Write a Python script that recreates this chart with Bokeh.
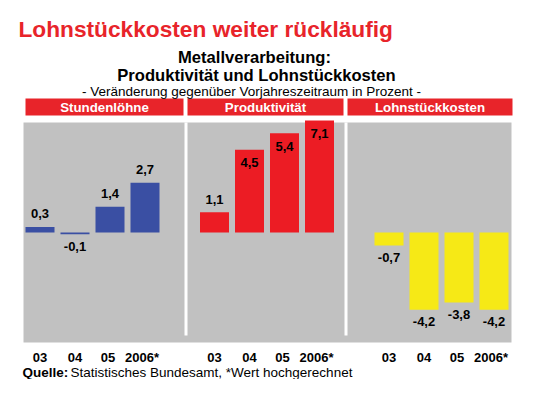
import numpy as np
from bokeh.plotting import figure
from bokeh.models import Range1d
from bokeh.core.properties import value
from bokeh.embed import file_html
from bokeh.resources import INLINE

# ---- data ----
years = ["03", "04", "05", "2006*"]
panels = ["Stundenlöhne", "Produktivität", "Lohnstückkosten"]
stundenloehne = [0.3, -0.1, 1.4, 2.7]
produktivitaet = [1.1, 4.5, 5.4, 7.1]
lohnstueckkosten = [-0.7, -4.2, -3.8, -4.2]
series = [stundenloehne, produktivitaet, lohnstueckkosten]

title = "Lohnstückkosten weiter rückläufig"
sub1 = "Metallverarbeitung:"
sub2 = "Produktivität und Lohnstückkosten"
sub3 = "- Veränderung gegenüber Vorjahreszeitraum in Prozent -"
source_bold = "Quelle:"
source_rest = "Statistisches Bundesamt, *Wert hochgerechnet"

# ---- styles / layout ----
bar_colors = ["#3a4fa3", "#ec1c24", "#f6e916"]
red = "#e8242a"
gray = "#c1c1c1"
FONT = value("Liberation Sans")
W, H = 529, 379
K = 18.4          # pixels per percentage point
BASE = 232        # page-pixel row of the zero line
def Y(px):        # page-pixel row -> value units
    return (BASE - px) / K

p = figure(width=W, height=H, output_backend="svg", toolbar_location=None,
           x_range=Range1d(0, W), y_range=Range1d(Y(H), Y(0)),
           min_border=0, outline_line_color=None)
p.axis.visible = False
p.grid.visible = False
p.background_fill_color = "white"

# panel background
p.quad(left=[23], right=[511], top=[Y(122)], bottom=[Y(342)],
       fill_color=gray, line_color=None)
p.segment(x0=[185.5, 345.5], x1=[185.5, 345.5], y0=[Y(122)] * 2, y1=[Y(335)] * 2,
          line_color="white", line_width=3)

# headers
hl = [25, 187, 347]
hr = [183, 343, 512]
p.quad(left=hl, right=hr, top=[Y(98)] * 3, bottom=[Y(115)] * 3,
       fill_color=red, line_color=None)
p.text(x=[(a + b) / 2 for a, b in zip(hl, hr)], y=[Y(106.5)] * 3, text=panels,
       text_color="white", text_font=FONT, text_font_style="bold",
       text_font_size="13.3px", text_align="center", text_baseline="middle")

# bars
x0, step, pstep, bw = 39.5, 35, 174.5, 29
cap = Y(120)   # bars are cut at the top of the panel area
label_inside = [[False] * 4, [False, True, True, True], [False] * 4]
for k, vals in enumerate(series):
    v = np.array(vals)
    xs = x0 + pstep * k + step * np.arange(len(v))
    top = np.minimum(np.maximum(v, 0), cap)
    bot = np.minimum(v, 0)
    p.vbar(x=xs, width=bw, top=top, bottom=bot,
           fill_color=bar_colors[k], line_color=None)
    ly = []
    for j, val in enumerate(v):
        if val >= 0:
            ly.append(top[j] - 13 / K if label_inside[k][j] else top[j] + 13 / K)
        else:
            ly.append(bot[j] - 12 / K)
    p.text(x=xs, y=ly, text=[f"{a:.1f}".replace(".", ",") for a in v],
           text_color="black", text_font=FONT, text_font_style="bold",
           text_font_size="13px", text_align="center", text_baseline="middle")
    p.text(x=xs - np.array([0, 0, 2, 3]), y=[Y(357)] * len(v), text=years,
           text_color="black", text_font=FONT, text_font_style="bold",
           text_font_size="13px", text_align="center", text_baseline="middle")

# titles
p.text(x=[18], y=[Y(28)], text=[title], text_color=red, text_font=FONT,
       text_font_style="bold", text_font_size="22.7px", text_align="left",
       text_baseline="alphabetic")
p.text(x=[254, 256], y=[Y(57), Y(75)], text=[sub1, sub2], text_color="black",
       text_font=FONT, text_font_style="bold", text_font_size="16.6px",
       text_align="center", text_baseline="alphabetic")
p.text(x=[251], y=[Y(91)], text=[sub3], text_color="black", text_font=FONT,
       text_font_size="13.5px", text_align="center", text_baseline="alphabetic")

# source
p.text(x=[22], y=[Y(372)], text=[source_bold], text_color="black", text_font=FONT,
       text_font_style="bold", text_font_size="13.5px", text_align="left",
       text_baseline="alphabetic")
p.text(x=[70], y=[Y(372)], text=[source_rest], text_color="black", text_font=FONT,
       text_font_size="13.5px", text_align="left", text_baseline="alphabetic")

open("out.html", "w").write(file_html(p, INLINE))
